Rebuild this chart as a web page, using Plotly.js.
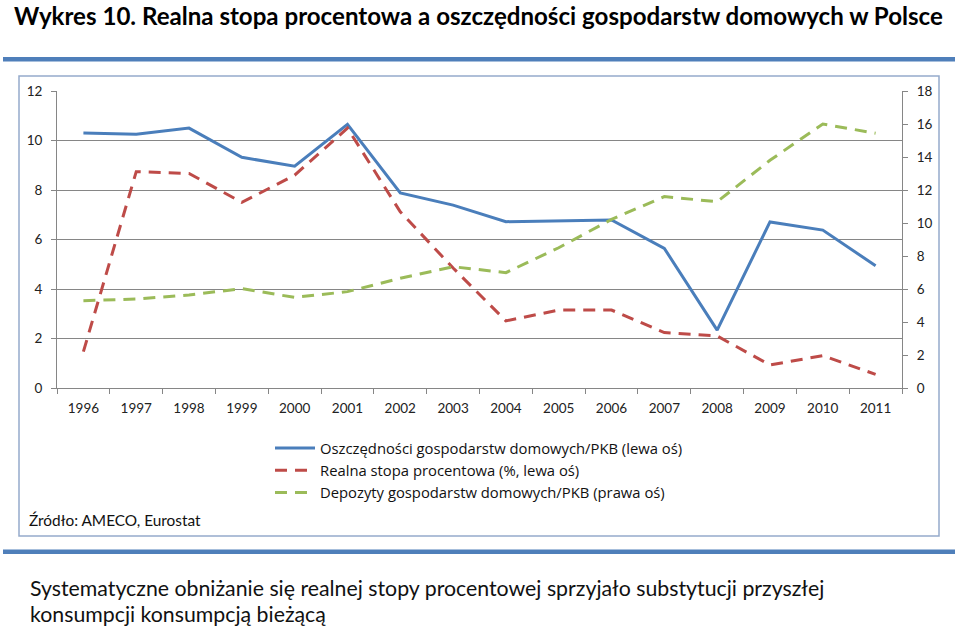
<!DOCTYPE html>
<html>
<head>
<meta charset="utf-8">
<script src="https://cdn.plot.ly/plotly-3.0.1.min.js"></script>
<style>
html,body{margin:0;padding:0;background:#fff;}
#chart{width:960px;height:629px;}
</style>
</head>
<body>
<div id="chart"></div>
<script>
// ---- data ----
var years = ['1996','1997','1998','1999','2000','2001','2002','2003','2004','2005','2006','2007','2008','2009','2010','2011'];
var savings = [10.3, 10.25, 10.5, 9.32, 8.96, 10.65, 7.88, 7.39, 6.72, 6.76, 6.79, 5.64, 2.34, 6.71, 6.38, 4.94];
var realRate = [1.47, 8.74, 8.67, 7.5, 8.6, 10.5, 7.12, 4.85, 2.71, 3.15, 3.15, 2.24, 2.1, 0.93, 1.31, 0.55];
var deposits = [5.29, 5.39, 5.64, 6.02, 5.49, 5.84, 6.65, 7.35, 6.99, 8.5, 10.22, 11.6, 11.29, 13.8, 16.0, 15.44];
var seriesNames = ['Oszczędności gospodarstw domowych/PKB (lewa oś)', 'Realna stopa procentowa (%, lewa oś)', 'Depozyty gospodarstw domowych/PKB (prawa oś)'];
var titleText = 'Wykres 10. Realna stopa procentowa a oszczędności gospodarstw domowych w Polsce';
var sourceText = 'Źródło: AMECO, Eurostat';
var noteLine1 = 'Systematyczne obniżanie się realnej stopy procentowej sprzyjało substytucji przyszłej';
var noteLine2 = 'konsumpcji konsumpcją bieżącą';

// ---- layout helpers (pixel -> paper) ----
var L = 57, R = 902, T = 91, B = 388;
function px(x){ return (x - L) / (R - L); }
function py(y){ return (B - y) / (B - T); }

var FONT = 'Lato, "Open Sans", sans-serif';
var grey = '#868686';
var tickFont = {family: FONT, size: 13.5, color: '#222'};

var traces = [
  {x: years, y: savings, name: seriesNames[0], type: 'scatter', mode: 'lines',
   line: {color: '#4A7EBB', width: 3}, yaxis: 'y'},
  {x: years, y: realRate, name: seriesNames[1], type: 'scatter', mode: 'lines',
   line: {color: '#BE4B48', width: 3, dash: '12px,8px'}, yaxis: 'y'},
  {x: years, y: deposits, name: seriesNames[2], type: 'scatter', mode: 'lines',
   line: {color: '#9BBB59', width: 3, dash: '12px,8px'}, yaxis: 'y2'}
];

var layout = {
  width: 960, height: 629,
  margin: {l: L, r: 960 - R, t: T, b: 629 - B, pad: 0},
  paper_bgcolor: '#fff', plot_bgcolor: 'rgba(0,0,0,0)',
  font: {family: FONT, color: '#222', size: 12},
  showlegend: true,
  legend: {x: px(270), y: py(432), xanchor: 'left', yanchor: 'top',
           font: {family: '"Open Sans", Lato, sans-serif', size: 14.8, color: '#111'},
           bgcolor: 'rgba(0,0,0,0)', borderwidth: 0, tracegroupgap: 0, itemwidth: 40},
  xaxis: {type: 'category', range: [-0.5, 15.5], showgrid: false, zeroline: false,
          showline: true, linecolor: grey, linewidth: 1,
          ticks: 'outside', tickson: 'boundaries', ticklen: 5, tickcolor: grey,
          ticklabelstandoff: 8,
          tickfont: tickFont, fixedrange: true},
  yaxis: {range: [0, 12], dtick: 2, tick0: 0, showgrid: true, gridcolor: grey, gridwidth: 1,
          zeroline: false, showline: true, linecolor: grey, linewidth: 1,
          ticks: 'outside', ticklen: 5, tickcolor: grey, ticklabelstandoff: 6,
          tickfont: tickFont, fixedrange: true},
  yaxis2: {range: [0, 18], dtick: 2, tick0: 0, overlaying: 'y', side: 'right',
           showgrid: false, zeroline: false, showline: true, linecolor: grey, linewidth: 1,
           ticks: 'outside', ticklen: 5, tickcolor: grey, ticklabelstandoff: 6,
           tickfont: tickFont, fixedrange: true},
  shapes: [
    {type: 'rect', xref: 'paper', yref: 'paper', x0: px(3), x1: px(955), y0: py(57), y1: py(61.5),
     fillcolor: '#4F7FBA', line: {width: 0}, layer: 'below'},
    {type: 'rect', xref: 'paper', yref: 'paper', x0: px(19), x1: px(939), y0: py(76), y1: py(536),
     fillcolor: 'rgba(0,0,0,0)', line: {color: '#95AACB', width: 1.5}, layer: 'below'},
    {type: 'rect', xref: 'paper', yref: 'paper', x0: px(3), x1: px(955), y0: py(549.5), y1: py(554),
     fillcolor: '#4F7FBA', line: {width: 0}, layer: 'below'}
  ],
  annotations: [
    {text: '<b>' + titleText + '</b>', xref: 'paper', yref: 'paper', x: px(13), y: py(0),
     xanchor: 'left', yanchor: 'top', showarrow: false, borderpad: 0,
     font: {family: FONT, size: 24.1, color: '#000'}},
    {text: sourceText, xref: 'paper', yref: 'paper', x: px(27), y: py(520),
     xanchor: 'left', yanchor: 'middle', showarrow: false,
     font: {family: FONT, size: 15.4, color: '#111'}},
    {text: noteLine1, xref: 'paper', yref: 'paper', x: px(28), y: py(588),
     xanchor: 'left', yanchor: 'middle', showarrow: false,
     font: {family: FONT, size: 21.3, color: '#111'}},
    {text: noteLine2, xref: 'paper', yref: 'paper', x: px(28), y: py(614),
     xanchor: 'left', yanchor: 'middle', showarrow: false,
     font: {family: FONT, size: 21.3, color: '#111'}}
  ]
};

Plotly.newPlot('chart', traces, layout, {displayModeBar: false, staticPlot: true});
</script>
</body>
</html>
